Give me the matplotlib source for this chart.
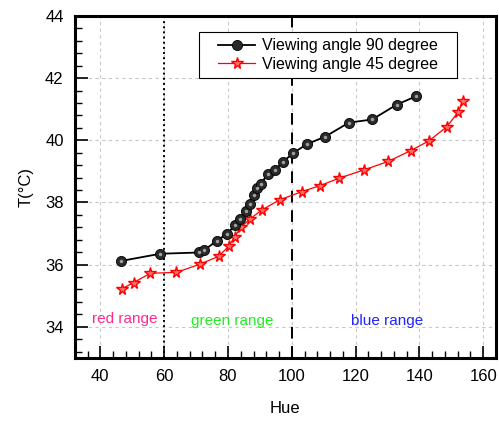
import numpy as np
import matplotlib.pyplot as plt
from matplotlib.patches import Rectangle
from matplotlib.ticker import MultipleLocator

plt.rcParams['font.family'] = ['Liberation Sans', 'DejaVu Sans']

# viewing angle 90 degree
hue_90 = [46.6, 58.8, 71.0, 72.6, 76.4, 79.8, 82.2, 83.9, 85.5, 86.8, 88.0, 89.1,
          90.4, 92.5, 94.7, 97.2, 100.4, 104.8, 110.5, 117.9, 125.2, 132.9, 138.8]
temp_90 = [36.12, 36.35, 36.39, 36.47, 36.76, 37.0, 37.27, 37.48, 37.71, 37.95, 38.24, 38.45,
           38.61, 38.93, 39.05, 39.3, 39.59, 39.88, 40.12, 40.57, 40.67, 41.15, 41.41]

# viewing angle 45 degree
hue_45 = [46.7, 50.4, 55.6, 63.8, 71.1, 77.1, 80.3, 82.1, 84.0, 86.9, 90.6, 96.3,
          103.2, 108.8, 114.8, 122.7, 130.2, 137.3, 143.1, 148.5, 152.1, 153.8]
temp_45 = [35.22, 35.42, 35.72, 35.75, 36.01, 36.27, 36.6, 36.9, 37.2, 37.47, 37.76, 38.09,
           38.35, 38.54, 38.78, 39.05, 39.32, 39.67, 39.99, 40.43, 40.9, 41.28]

range_labels = ['red range', 'green range', 'blue range']
range_colors = ['#ff2a8c', '#22ee22', '#2222ff']
range_x = [47.5, 81.3, 129.9]
range_y = [34.26, 34.2, 34.2]

fig = plt.figure(figsize=(4.99, 4.21), dpi=100)
ax = fig.add_axes([0.150, 0.150, 0.844, 0.812])

ax.grid(True, color='#c8c8c8', linestyle=(0, (3, 3)), linewidth=0.8)
ax.set_axisbelow(True)

ax.axvline(60, color='black', linestyle=':', linewidth=1.4)
ax.axvline(100, color='black', linestyle=(0, (6, 4)), linewidth=1.4)

ax.plot(hue_90, temp_90, color='black', linewidth=1.3, marker='o', markersize=7.3,
        markerfacecolor='#2a2a2a', markeredgecolor='black', markeredgewidth=0.6,
        label='Viewing angle 90 degree', zorder=4)
ax.plot(hue_90, temp_90, linestyle='none', marker='o', markersize=2.5,
        markerfacecolor='#a0a0a0', markeredgewidth=0, zorder=5)
ax.plot(hue_45, temp_45, color='red', linewidth=0.9, marker='*', markersize=8.5,
        markerfacecolor='#ff7070', markeredgecolor='red', markeredgewidth=1.0,
        label='Viewing angle 45 degree', zorder=3)

for lab, col, x, y in zip(range_labels, range_colors, range_x, range_y):
    ax.text(x, y, lab, color=col, fontsize=11, ha='center', va='center')

ax.set_xlim(32, 164)
ax.set_ylim(33, 44)
ax.xaxis.set_major_locator(MultipleLocator(20))
ax.xaxis.set_minor_locator(MultipleLocator(4))
ax.yaxis.set_major_locator(MultipleLocator(2))
ax.yaxis.set_minor_locator(MultipleLocator(0.4))
ax.tick_params(which='both', direction='in', labelsize=12, top=False, right=False)
ax.tick_params(which='major', length=9, width=1.2, pad=8)
ax.tick_params(which='minor', length=5, width=1.0)
for s in ax.spines.values():
    s.set_linewidth(2.2)

ax.set_xlabel('Hue', fontsize=12, labelpad=12)
ax.set_ylabel('T(°C)', fontsize=12, labelpad=8)

# legend box drawn separately so it can be wider than its content
ax.add_patch(Rectangle((0.2945, 0.819), 0.6125, 0.134, transform=ax.transAxes,
                       facecolor='white', edgecolor='black', linewidth=0.8, zorder=6))
leg = ax.legend(loc='center', bbox_to_anchor=(0.601, 0.886), fontsize=11.5,
                frameon=False, borderpad=0.0, handlelength=2.3, handletextpad=0.4,
                labelspacing=0.2)
leg.set_zorder(7)

fig.savefig('out.png', dpi=100)
